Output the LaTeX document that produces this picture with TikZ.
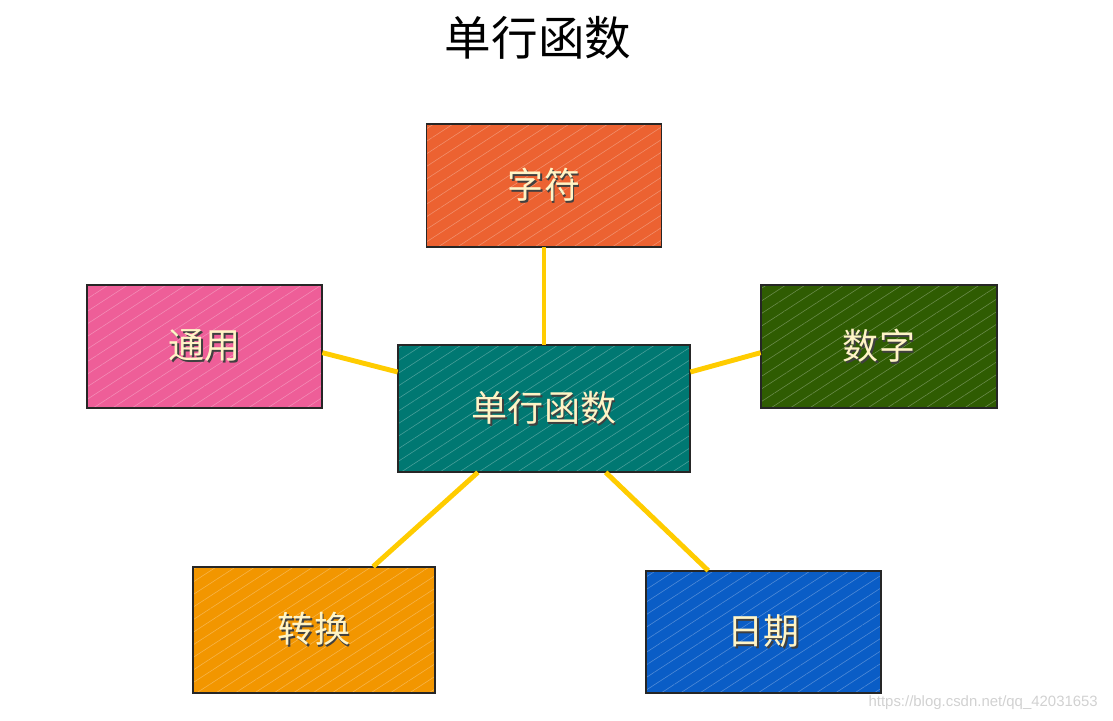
\documentclass[tikz,border=0pt]{standalone}
\usepackage{fontspec}
\newfontfamily\cjk{Noto Sans CJK SC}
\newfontfamily\wmfont{Liberation Sans}
\usetikzlibrary{patterns.meta}

\definecolor{linkyellow}{HTML}{FFCC00}
\definecolor{labelcream}{HTML}{FFF4C6}
\definecolor{zifucol}{HTML}{EC6231}
\definecolor{tongyongcol}{HTML}{EE5E98}
\definecolor{shuzicol}{HTML}{2F5C02}
\definecolor{hanshucol}{HTML}{007872}
\definecolor{zhuanhuancol}{HTML}{F29600}
\definecolor{riqicol}{HTML}{0A5DC6}

% text with a small dark drop shadow
\newcommand{\shtxt}[1]{\rlap{\hspace{1pt}\raisebox{-1pt}{\color{black!75}#1}}#1}

\begin{document}
\begin{tikzpicture}[
    box/.style={fill=#1, minimum width=4.7cm,
      minimum height=2.46cm, inner sep=0pt, text=labelcream,
      font=\cjk\fontsize{20.5}{24}\selectfont,
      postaction={pattern={Lines[angle=33,distance=6pt,line width=0.35pt]},
        pattern color=#1!72!white},
      postaction={draw=black!85, line width=0.8pt}},
    link/.style={linkyellow, line width=2.8pt}]

  \useasboundingbox (0,0) rectangle (22.26,14.4);

  % ── Title ─────────────────────────────────────────────────────────────
  \node[font=\cjk\fontsize{26.5}{30}\selectfont] (title) at (10.76, 13.64) {单行函数};

  % ── Boxes ─────────────────────────────────────────────────────────────
  \node[box=hanshucol, minimum width=5.84cm, minimum height=2.54cm]
    (hanshu) at (10.88, 6.23) {\shtxt{单行函数}};

  \node[box=zifucol] (zifu) at (10.88, 10.69) {\shtxt{字符}};
  \node[box=tongyongcol] (tongyong) at (4.09, 7.47) {\shtxt{通用}};
  \node[box=shuzicol, minimum width=4.72cm] (shuzi) at (17.58, 7.47) {\shtxt{数字}};

  \node[box=zhuanhuancol, minimum width=4.84cm, minimum height=2.52cm]
    (zhuanhuan) at (6.28, 1.80) {\shtxt{转换}};
  \node[box=riqicol, minimum height=2.44cm] (riqi) at (15.27, 1.76) {\shtxt{日期}};

  % ── Links ─────────────────────────────────────────────────────────────
  \draw[link] (zifu.south) -- (hanshu.north);
  \draw[link] (tongyong.-3) -- (hanshu.166);
  \draw[link] (shuzi.183) -- (hanshu.14);
  \draw[link] (zhuanhuan.47) -- (hanshu.224);
  \draw[link] (riqi.132) -- (hanshu.-46);

  % ── Watermark ─────────────────────────────────────────────────────────
  \node[anchor=east, text=black!18, font=\wmfont\fontsize{8.5}{10}\selectfont]
    (mark) at (22.08, 0.34) {https://blog.csdn.net/qq\_42031653};

\end{tikzpicture}
\end{document}
